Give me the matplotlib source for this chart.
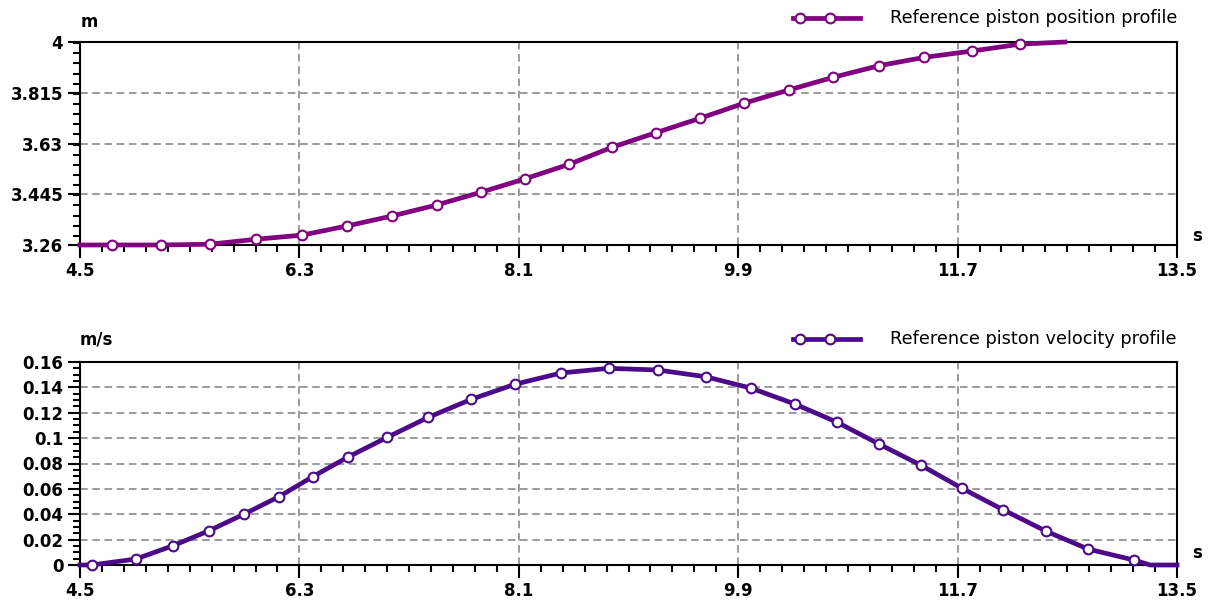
import matplotlib
matplotlib.use('Agg')
from matplotlib import pyplot as plt
from matplotlib.lines import Line2D
from matplotlib.ticker import MultipleLocator, FixedLocator

# position profile (s, m)
pos_time = [4.5, 4.759, 5.168, 5.569, 5.946, 6.322, 6.687, 7.063, 7.427, 7.787, 8.149, 8.512,
            8.863, 9.223, 9.587, 9.949, 10.315, 10.677, 11.059, 11.428, 11.817, 12.210, 12.58]
pos_value = [3.26, 3.26, 3.26, 3.263, 3.281, 3.296, 3.329, 3.366, 3.406, 3.452, 3.501, 3.554,
             3.616, 3.669, 3.722, 3.777, 3.825, 3.871, 3.914, 3.944, 3.967, 3.992, 4.0]

# velocity profile (s, m/s)
vel_time = [4.5, 4.596, 4.958, 5.263, 5.558, 5.844, 6.131, 6.409, 6.695, 7.022, 7.358, 7.710,
            8.067, 8.444, 8.836, 9.240, 9.632, 10.009, 10.364, 10.712, 11.054, 11.400, 11.735,
            12.076, 12.422, 12.769, 13.146, 13.28, 13.5]
vel_value = [0.0, 0.0, 0.0047, 0.0152, 0.0270, 0.0400, 0.0538, 0.0696, 0.0849, 0.1007, 0.1164, 0.1306,
             0.1424, 0.1513, 0.1550, 0.1537, 0.1484, 0.1393, 0.1269, 0.1125, 0.0954, 0.0786, 0.0605,
             0.0434, 0.0268, 0.0126, 0.0039, 0.0, 0.0]

x_ticks = [4.5, 6.3, 8.1, 9.9, 11.7, 13.5]
pos_ticks = [3.26, 3.445, 3.63, 3.815, 4.0]
pos_labels = ['3.26', '3.445', '3.63', '3.815', '4']
vel_ticks = [0, 0.02, 0.04, 0.06, 0.08, 0.1, 0.12, 0.14, 0.16]
vel_labels = ['0', '0.02', '0.04', '0.06', '0.08', '0.1', '0.12', '0.14', '0.16']

pos_color = '#800080'
vel_color = '#4b0a8a'
grid_color = '#808080'

W, H = 1209, 604
fig = plt.figure(figsize=(W / 100, H / 100), dpi=100, facecolor='white')


def px(x0, y0, x1, y1):
    # pixel box -> figure fractions
    return [x0 / W, 1 - y1 / H, (x1 - x0) / W, (y1 - y0) / H]


def style_axes(ax, yticks, ylabels, yminor):
    ax.set_xlim(4.5, 13.5)
    ax.set_ylim(yticks[0], yticks[-1])
    ax.xaxis.set_major_locator(FixedLocator(x_ticks))
    ax.set_xticklabels([f'{t:g}' for t in x_ticks])
    ax.xaxis.set_minor_locator(MultipleLocator(0.18))
    ax.yaxis.set_major_locator(FixedLocator(yticks))
    ax.set_yticklabels(ylabels)
    ax.yaxis.set_minor_locator(MultipleLocator(yminor))
    ax.tick_params(which='major', length=9, width=1.5, labelsize=12, pad=3, direction='out')
    ax.tick_params(which='minor', length=5, width=1.5, direction='out')
    for lab in ax.get_xticklabels() + ax.get_yticklabels():
        lab.set_fontweight('bold')
    for sp in ax.spines.values():
        sp.set_linewidth(1.5)
    ax.grid(True, which='major', color=grid_color, linestyle=(0, (5, 3)), linewidth=1.1)
    ax.set_axisbelow(True)


def legend_entry(y_px, color, text):
    fig.add_artist(Line2D([793 / W, 860 / W], [1 - y_px / H] * 2, color=color, linewidth=3.4,
                          transform=fig.transFigure))
    fig.add_artist(Line2D([800 / W, 830 / W], [1 - y_px / H] * 2, linestyle='none', marker='o',
                          markersize=7, markerfacecolor='white', markeredgecolor=color,
                          markeredgewidth=1.5, transform=fig.transFigure))
    fig.text(1177 / W, 1 - y_px / H, text, ha='right', va='center', fontsize=12.8)


# upper panel: position
ax1 = fig.add_axes(px(80, 42, 1177, 245))
ax1.plot(pos_time, pos_value, color=pos_color, linewidth=3.4, marker='o', markersize=7,
         markerfacecolor='white', markeredgecolor=pos_color, markeredgewidth=1.5,
         markevery=slice(1, len(pos_time) - 1), clip_on=False, zorder=3)
style_axes(ax1, pos_ticks, pos_labels, 0.037)
fig.text(81 / W, 1 - 22 / H, 'm', ha='left', va='center', fontsize=12, fontweight='bold')
fig.text(1197 / W, 1 - 236 / H, 's', ha='center', va='center', fontsize=12, fontweight='bold')
legend_entry(18, pos_color, 'Reference piston position profile')

# lower panel: velocity
ax2 = fig.add_axes(px(80, 362, 1177, 565))
ax2.plot(vel_time, vel_value, color=vel_color, linewidth=3.4, marker='o', markersize=7,
         markerfacecolor='white', markeredgecolor=vel_color, markeredgewidth=1.5,
         markevery=slice(1, len(vel_time) - 2), clip_on=False, zorder=3)
style_axes(ax2, vel_ticks, vel_labels, 0.005)
fig.text(80 / W, 1 - 340 / H, 'm/s', ha='left', va='center', fontsize=12, fontweight='bold')
fig.text(1197 / W, 1 - 553 / H, 's', ha='center', va='center', fontsize=12, fontweight='bold')
legend_entry(339, vel_color, 'Reference piston velocity profile')

fig.savefig('out.png', dpi=100, facecolor='white')
